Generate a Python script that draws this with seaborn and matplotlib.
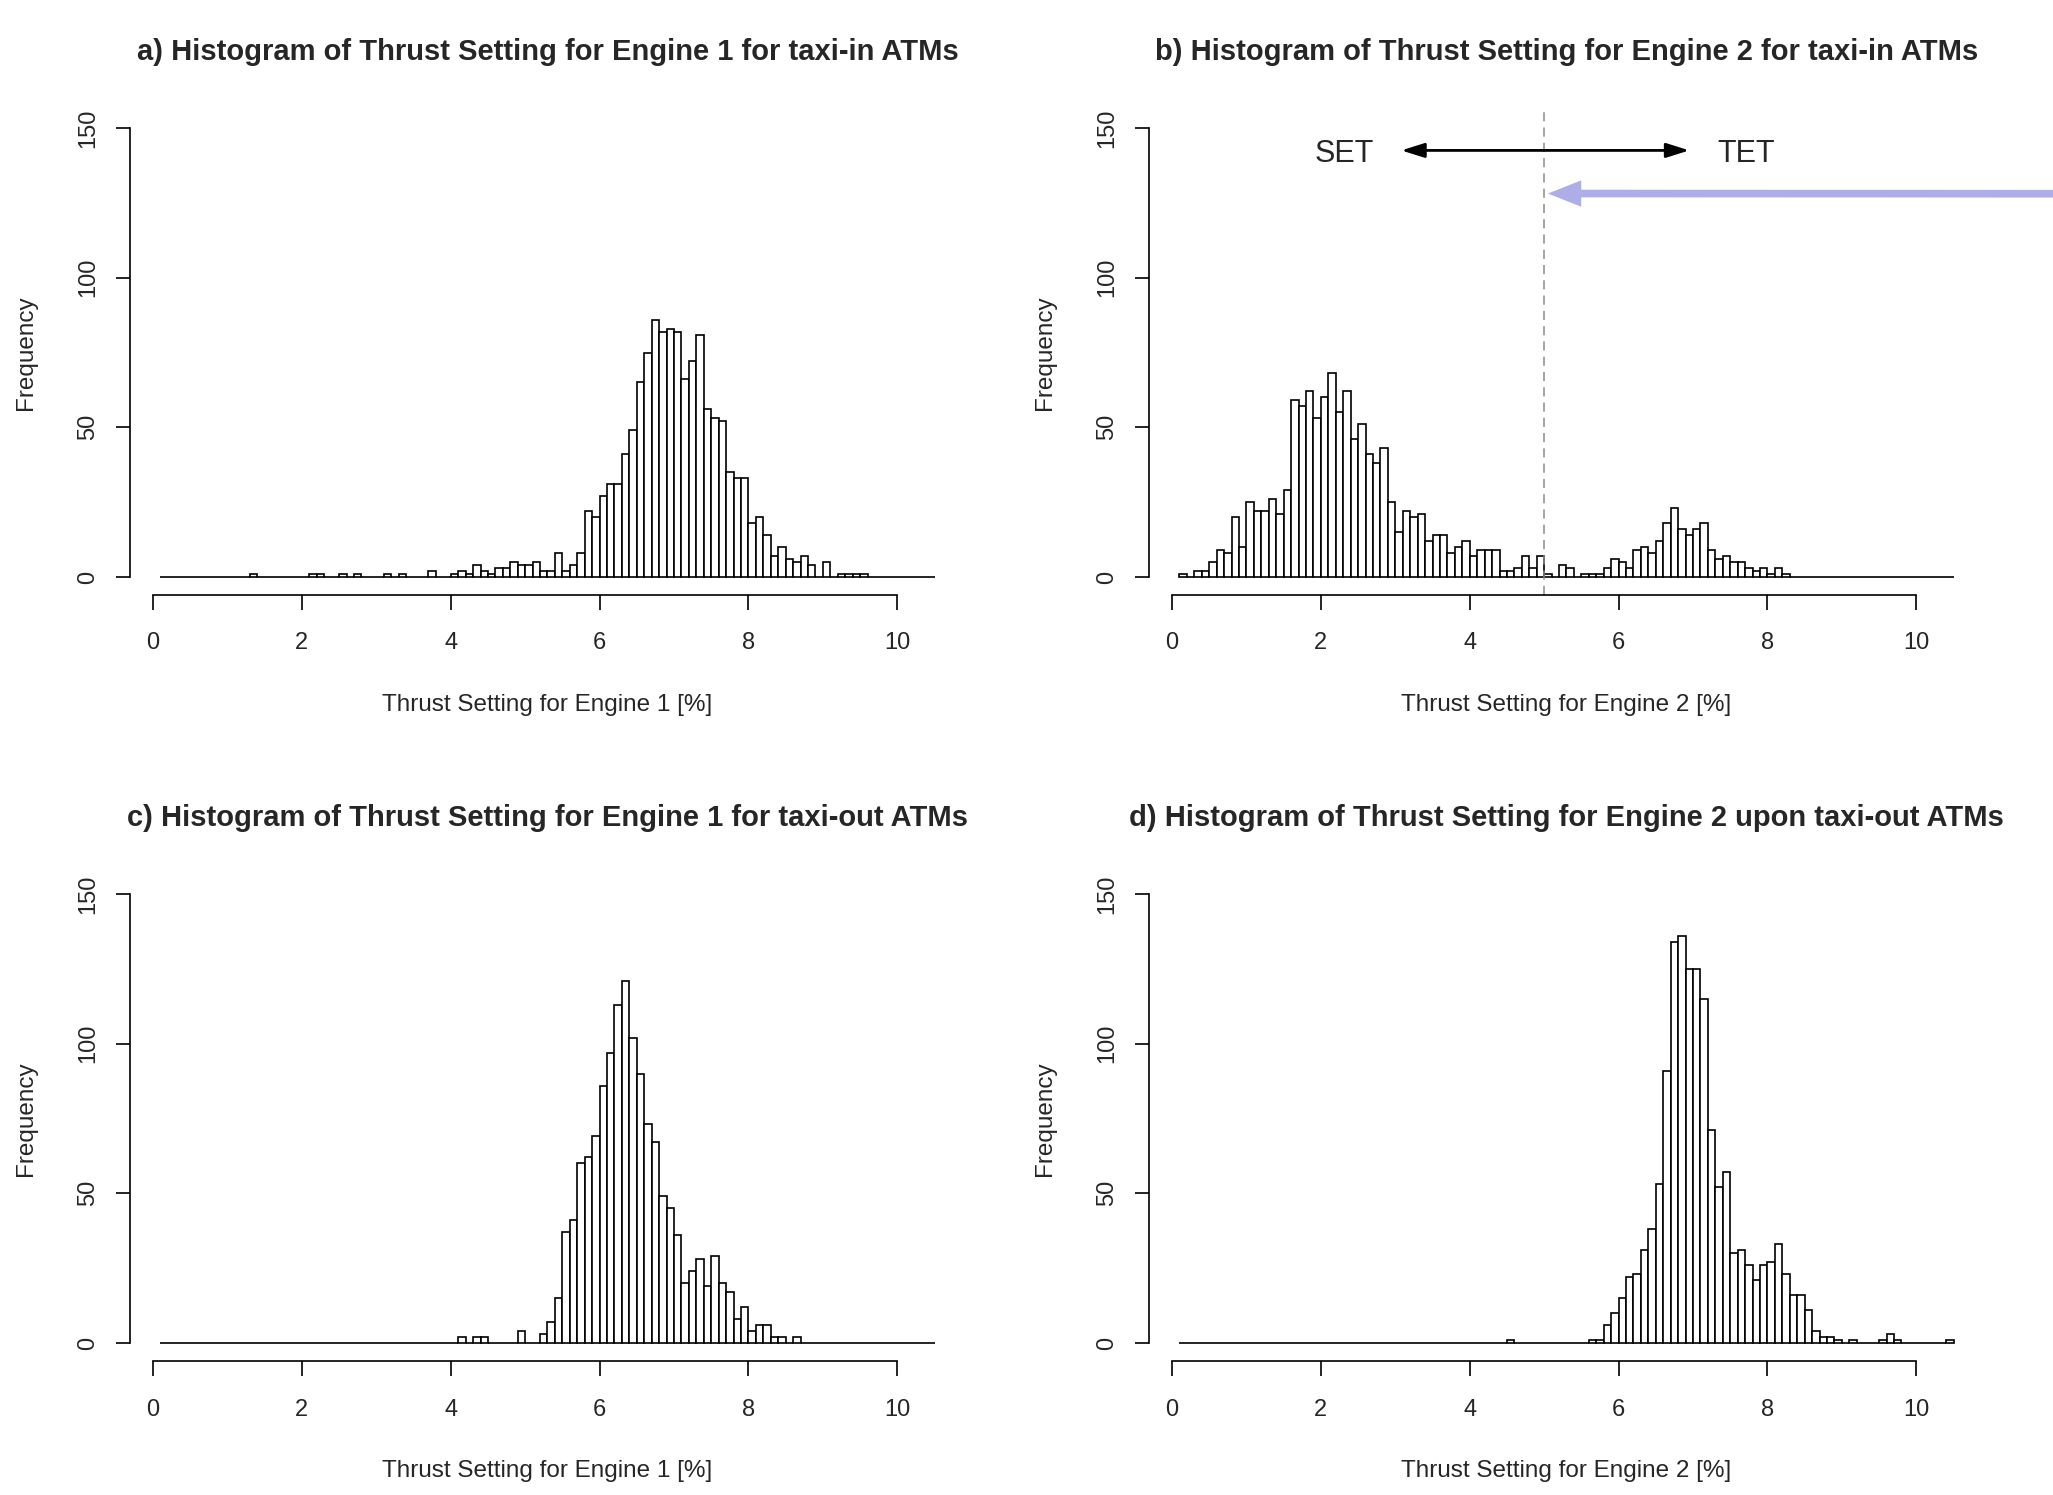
import numpy as np
import pandas as pd
import matplotlib
matplotlib.use("Agg")
import matplotlib.pyplot as plt
import seaborn as sns

# ---------------- data (histogram counts, bin width 0.1 %) ----------------
first_edge = 0.1
last_edge = 10.5
bin_width = 0.1

# a) Engine 1, taxi-in : counts for consecutive bins starting at a_start
a_start = 1.3
a_counts = [1, 0, 0, 0, 0, 0, 0, 0, 1, 1, 0, 0, 1, 0, 1, 0, 0, 0, 1, 0,
            1, 0, 0, 0, 2, 0, 0, 1, 2, 1, 4, 2, 1, 3, 3, 5, 4, 4, 5, 2,
            2, 8, 2, 4, 8, 22, 20, 27, 31, 31, 41, 49, 65, 75, 86, 82, 83, 82, 66, 72,
            81, 56, 53, 52, 35, 33, 33, 18, 20, 14, 7, 10, 6, 5, 7, 4, 0, 5, 0, 1,
            1, 1, 1]

# b) Engine 2, taxi-in
b_start = 0.1
b_counts = [1, 0, 2, 2, 5, 9, 8, 20, 10, 25, 22, 22, 26, 21, 29, 59, 57, 62, 53, 60,
            68, 55, 62, 46, 51, 41, 38, 43, 25, 15, 22, 20, 21, 12, 14, 14, 8, 10, 12, 7,
            9, 9, 9, 2, 2, 3, 7, 3, 7, 1, 0, 4, 3, 0, 1, 1, 1, 3, 6, 5,
            3, 9, 10, 8, 12, 18, 23, 16, 14, 16, 18, 9, 6, 7, 5, 5, 3, 2, 3, 1,
            3, 1]

# c) Engine 1, taxi-out
c_start = 4.1
c_counts = [2, 0, 2, 2, 0, 0, 0, 0, 4, 0, 0, 3, 7, 15, 37, 41, 60, 62, 69, 86,
            97, 113, 121, 102, 90, 73, 67, 49, 45, 36, 20, 24, 28, 19, 29, 20, 17, 8, 12, 4,
            6, 6, 2, 2, 0, 2]

# d) Engine 2, taxi-out
d_start = 4.5
d_counts = [1, 0, 0, 0, 0, 0, 0, 0, 0, 0, 0, 1, 1, 6, 10, 15, 22, 23, 31, 38,
            53, 91, 134, 136, 125, 125, 115, 71, 52, 57, 30, 31, 26, 21, 26, 27, 33, 23, 16, 16,
            11, 4, 2, 2, 1, 0, 1, 0, 0, 0, 1, 3, 1, 0, 0, 0, 0, 0, 0, 1]

titles = ["a) Histogram of Thrust Setting for Engine 1 for taxi-in ATMs",
          "b) Histogram of Thrust Setting for Engine 2 for taxi-in ATMs",
          "c) Histogram of Thrust Setting for Engine 1 for taxi-out ATMs",
          "d) Histogram of Thrust Setting for Engine 2 upon taxi-out ATMs"]
xlabels = ["Thrust Setting for Engine 1 [%]", "Thrust Setting for Engine 2 [%]",
           "Thrust Setting for Engine 1 [%]", "Thrust Setting for Engine 2 [%]"]
ylabel = "Frequency"
x_ticks = [0, 2, 4, 6, 8, 10]
y_ticks = [0, 50, 100, 150]
split_value = 5.0
set_label, tet_label = "SET", "TET"

# ---------------- styling ----------------
sns.set_style("ticks")
plt.rcParams["font.family"] = ["Liberation Sans", "DejaVu Sans"]

edges = np.round(np.arange(first_edge, last_edge + bin_width / 2, bin_width), 2)
centers = np.round(edges[:-1] + bin_width / 2, 3)
bin_list = [float(e) for e in edges]


def full_counts(start, counts):
    out = np.zeros(len(centers))
    i0 = int(round((start - first_edge) / bin_width))
    out[i0:i0 + len(counts)] = counts
    return out


panels = [(a_start, a_counts), (b_start, b_counts), (c_start, c_counts), (d_start, d_counts)]

fig = plt.figure(figsize=(20.53, 14.95), dpi=100)
W, H = 2053, 1495
ax_w, ax_h = 836, 485
positions = [(129.5, 595), (1148.5, 595), (129.5, 1361), (1148.5, 1361)]

xr = (last_edge - first_edge) * 0.04
x_lim = (first_edge - xr, last_edge + xr)
y_lim = (-6, 156)

axes = []
for k, ((start, counts), (lx, by)) in enumerate(zip(panels, positions)):
    ax = fig.add_axes([lx / W, 1 - by / H, ax_w / W, ax_h / H])
    df = pd.DataFrame({"thrust": centers, "freq": full_counts(start, counts)})
    sns.histplot(data=df, x="thrust", weights="freq", bins=bin_list, ax=ax,
                 color="white", edgecolor="black", linewidth=1.2, alpha=1.0)
    ax.set_xlim(*x_lim)
    ax.set_ylim(*y_lim)
    ax.set_xticks(x_ticks)
    ax.set_yticks(y_ticks)
    ax.set_xticklabels([str(t) for t in x_ticks])
    ax.set_yticklabels([str(t) for t in y_ticks])
    for sp in ["top", "right"]:
        ax.spines[sp].set_visible(False)
    ax.spines["bottom"].set_bounds(x_ticks[0], x_ticks[-1])
    ax.spines["left"].set_bounds(y_ticks[0], y_ticks[-1])
    for sp in ["bottom", "left"]:
        ax.spines[sp].set_linewidth(1.2)
        ax.spines[sp].set_color("black")
    ax.tick_params(axis="x", length=11, width=1.2, color="black", labelsize=17, pad=16)
    ax.tick_params(axis="y", length=10, width=1.2, color="black", labelsize=17, pad=12)
    for lab in ax.get_yticklabels():
        lab.set_rotation(90)
        lab.set_va("center")
    ax.set_xlabel(xlabels[k], fontsize=17.5)
    ax.set_ylabel(ylabel, fontsize=17.5)
    ax.xaxis.label.set_va("center")
    ax.yaxis.label.set_va("center")
    ax.xaxis.set_label_coords(0.5, -0.227)
    ax.yaxis.set_label_coords(-0.124, 0.5)
    ax.text(0.5, 1.12, titles[k], transform=ax.transAxes, ha="center", va="center",
            fontsize=21, fontweight="bold")
    ax.grid(False)
    axes.append(ax)

# ---------------- annotations on panel b ----------------
axb = axes[1]
axb.axvline(split_value, color="#8c8c8c", lw=1.1, ls=(0, (6, 4)))
axb.annotate("", xy=(3.08, 142.5), xytext=(6.95, 142.5),
             arrowprops=dict(arrowstyle="<|-|>,head_length=0.7,head_width=0.22",
                             mutation_scale=20, lw=2, color="black",
                             shrinkA=0, shrinkB=0))
axb.text(2.31, 141.3, set_label, ha="center", va="center", fontsize=22)
axb.text(7.71, 141.3, tet_label, ha="center", va="center", fontsize=22)
axb.annotate("", xy=(5.05, 128.1), xycoords="data",
             xytext=(1.0, 1 - 193.7 / H), textcoords="figure fraction",
             arrowprops=dict(arrowstyle="simple,head_length=2.4,head_width=1.9,tail_width=0.55",
                             mutation_scale=10, lw=0, color="#adade8",
                             shrinkA=0, shrinkB=0),
             annotation_clip=False)

fig.savefig("out.png", dpi=100, facecolor="white")
